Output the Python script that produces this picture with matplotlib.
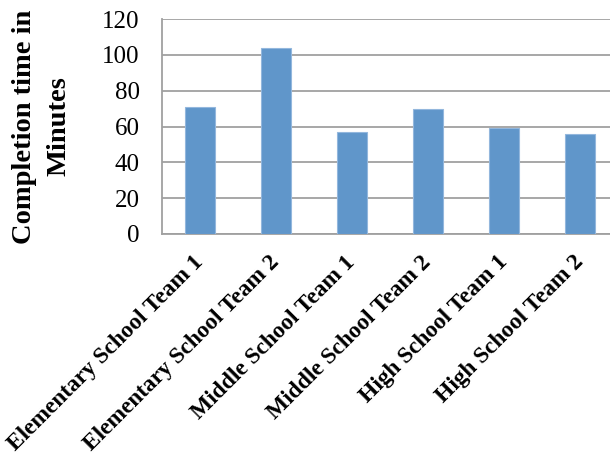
import matplotlib.pyplot as plt

teams = ['Elementary School Team 1', 'Elementary School Team 2',
         'Middle School Team 1', 'Middle School Team 2',
         'High School Team 1', 'High School Team 2']
minutes = [71, 104, 57, 70, 59, 56]
yticks = [0, 20, 40, 60, 80, 100, 120]

plt.rcParams['font.family'] = ['Liberation Serif', 'DejaVu Serif']

fig = plt.figure(figsize=(6.1, 4.58), dpi=100)
# plot area runs off the right edge, as in the original
ax = fig.add_axes([162 / 610, 224 / 458, 456 / 610, 215 / 458])

x = range(len(teams))
ax.bar(x, minutes, width=0.4, color='#6096CA', edgecolor='#93B7DD',
       linewidth=0.8, zorder=3)

ax.set_xlim(-0.5, len(teams) - 0.5)
ax.set_ylim(0, 120)
ax.set_yticks(yticks)
ax.yaxis.grid(True, color='#A0A0A0', linewidth=1.3, zorder=0)
ax.set_axisbelow(True)

for s in ['top', 'right']:
    ax.spines[s].set_visible(False)
for s in ['left', 'bottom']:
    ax.spines[s].set_color('#A0A0A0')
    ax.spines[s].set_linewidth(1.3)

ax.tick_params(axis='y', length=0, pad=16, labelsize=18)
ax.tick_params(axis='x', length=0, pad=18)
ax.set_xticks(list(x))
ax.set_xticklabels(teams, rotation=45, ha='right', va='center',
                   rotation_mode='anchor', fontsize=16.8, fontweight='bold')

ax.set_ylabel('Completion time in\nMinutes', fontsize=20.5, fontweight='bold',
              linespacing=1.5, labelpad=22)

fig.savefig('out.png', dpi=100)
